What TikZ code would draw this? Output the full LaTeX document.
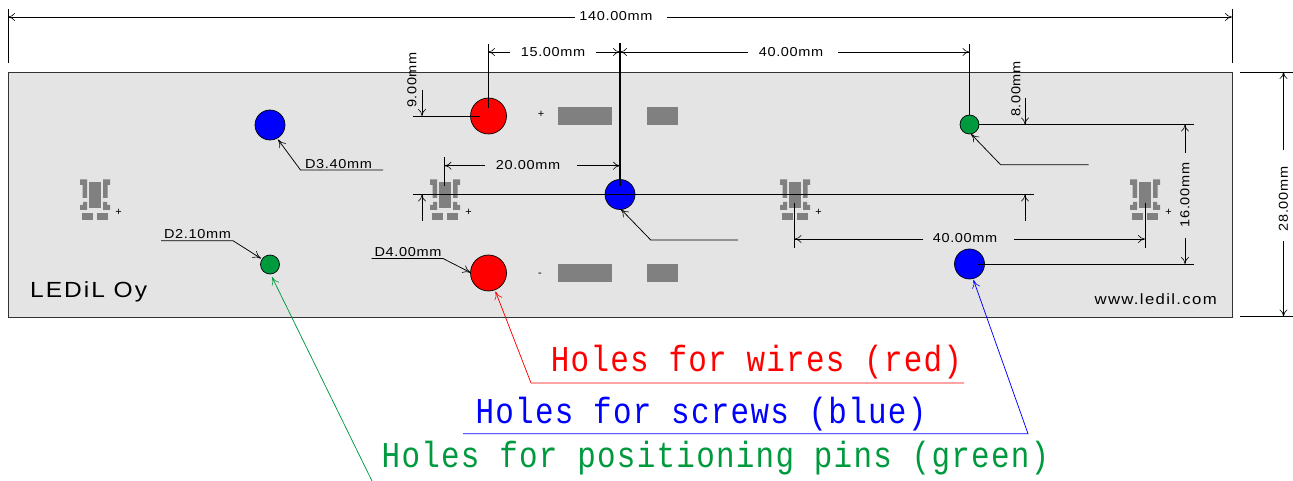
\documentclass[tikz,border=0pt]{standalone}
\usepackage{fontspec}
\usetikzlibrary{arrows.meta}
\newfontfamily\dimfont[FakeStretch=1.12,LetterSpace=5]{Liberation Sans}
\newfontfamily\brandfont[FakeStretch=1.12,LetterSpace=9]{Liberation Sans}
\newfontfamily\plainfont{Liberation Sans}
\newfontfamily\labfont[FakeStretch=0.85,LetterSpace=3.5]{Liberation Mono}
\definecolor{plate}{HTML}{E4E4E4}
\definecolor{padgray}{HTML}{808080}
\definecolor{pingreen}{HTML}{009A3E}
\tikzset{
  dimtext/.style={inner sep=0pt,font=\dimfont\fontsize{13}{14}\selectfont},
  dimline/.style={draw=black,line width=0.75pt,-{To[length=7bp,width=8bp,line width=0.6pt]}},
  plainline/.style={draw=black,line width=0.75pt},
  heavyline/.style={draw=black,line width=1.05pt},
  leader/.style={line width=0.75pt,-{To[length=8bp,width=8bp,line width=0.6pt]}},
  hole/.style={circle,draw=black,line width=0.7pt,inner sep=0pt},
  bighole/.style={hole,minimum size=36bp},
  midhole/.style={hole,minimum size=30bp},
  smallhole/.style={hole,minimum size=19bp},
  pad/.style={fill=padgray,draw=none},
  sign/.style={inner sep=0pt,font=\plainfont\fontsize{11}{12}\selectfont},
  holelabel/.style={inner sep=0pt,font=\labfont\fontsize{36.5}{38}\selectfont},
}
\begin{document}
\begin{tikzpicture}[x=1bp,y=-1bp]
\useasboundingbox (0,0) rectangle (1293,481);
\fill[white] (0,0) rectangle (1293,481);
% plate
\node[draw=black!80,line width=0.75pt,fill=plate,minimum width=1224bp,minimum height=244.5bp,inner sep=0pt,anchor=north west] (plateb) at (8,72) {};
% pads
\foreach \yy in {107,264}{
  \fill[pad] (558,\yy) rectangle (611.7,\yy+18);
  \fill[pad] (646.7,\yy) rectangle (678,\yy+18);
}
\node[sign] (plusw) at (541,114.5) {+};
\node[sign] (minusw) at (540,275) {-};
% LED footprints
\foreach \cx/\nm in {95/a,445/b,795/c,1145/d}{
  \begin{scope}[shift={(\cx,0)}]
    \fill[pad] (-6.2,182) rectangle (6.4,207.7);
    \foreach \s in {-1,1}{
      \fill[pad] (\s*15,179.3) -- (\s*8,179.3) -- (\s*8,198) -- (\s*12.5,198) -- (\s*12.5,185) -- (\s*15,185) -- cycle;
      \fill[pad] (\s*8,202) -- (\s*12,202) -- (\s*12,205) -- (\s*15,205) -- (\s*15,210) -- (\s*8,210) -- cycle;
    }
    \fill[pad] (-12.7,212.7) rectangle (-1.7,219.7);
    \fill[pad] (2,212.7) rectangle (13,219.7);
    \node[sign] (plus\nm) at (23.5,212.3) {+};
  \end{scope}
}
% holes
\node[bighole,fill=red] (w1) at (488.5,116) {};
\node[bighole,fill=red] (w2) at (488.5,273) {};
\node[midhole,fill=blue] (s1) at (270,125) {};
\node[midhole,fill=blue] (s2) at (620,194.5) {};
\node[midhole,fill=blue] (s3) at (969.5,264) {};
\node[smallhole,fill=pingreen] (p1) at (969.5,124.5) {};
\node[smallhole,fill=pingreen] (p2) at (270,264.5) {};
% named ends
\foreach \n/\x/\y in {
 tl/8/9, bl/8/63, tr/1232/9, br/1232/63, t1/8/17, t2/575/17, t3/667/17, t4/1232/17,
 a1/488/44, a2/488/108, b1/620/43, b2/620/186, c1/969.5/44, c2/969.5/115,
 d1/510/52, d0/488/52, d2/596/52, d3/620/52, e0/620/52, e1/748/52, e2/838/52, e3/969.5/52,
 f1/413/116, f2/480/116, g1/422/90, g2/422/116, g3/422/221, g4/422/194.5,
 h1/413/194.5, h2/1034/194.5, i1/979/124.5, i2/1194/124.5, i3/1034/124.5,
 j1/1025/98, j2/1025/124.5, j3/1025/221, j4/1025/194.5,
 k1/1185/153, k2/1185/124.5, k3/1185/238, k4/1185/264,
 l1/978/264, l2/1194/264,
 m1/794.5/203, m2/794.5/248, m3/1145/203, m4/1145/248,
 n1/923/239, n0/794.5/239, n2/1014/239, n3/1145/239,
 o1/444.5/157, o2/444.5/186, o3/485/165.7, o0/444.5/165.7, o4/577/165.7, o5/620/165.7,
 q1/1240/72, q2/1294/72, q3/1240/316.5, q4/1294/316.5,
 r1/1283.5/150, r2/1283.5/72, r3/1283.5/241, r4/1283.5/316.5,
 u1/1088.5/164.7, u2/1000.6/164.7, u3/971/134,
 v1/738/240, v2/650.7/240, v3/620.7/209,
 x1/383/170, x2/300.5/170, x3/278/139.5,
 y1/161/240.7, y2/233/240.7, y3/261/258.5,
 z1/371.5/258.5, z2/443/258.5, z3/470.7/272.7,
 ra/964/383, rb/531/383, rc/495.5/291.5,
 ba/463/433.7, bb/1028/433.7, bc/973.5/280,
 ga/372/481, gc/272/277}{
  \coordinate (\n) at (\x,\y);
}
% extension lines
\draw[plainline] (tl) -- (bl);
\draw[plainline] (tr) -- (br);
\draw[plainline] (a1) -- (a2);
\draw[heavyline] (b1) -- (b2);
\draw[plainline] (c1) -- (c2);
\draw[plainline] (f1) -- (f2);
\draw[heavyline] (h1) -- (h2);
\draw[plainline] (i1) -- (i2);
\draw[heavyline] (i1) -- (i3);
\draw[plainline] (l1) -- (l2);
\draw[plainline] (m1) -- (m2);
\draw[plainline] (m3) -- (m4);
\draw[plainline] (o1) -- (o2);
\draw[plainline] (q1) -- (q2);
\draw[plainline] (q3) -- (q4);
% dimension arrows and texts
\draw[dimline] (t2) -- (t1);
\draw[dimline] (t3) -- (t4);
\node[dimtext] (l140) at (616,16.5) {140.00mm};
\draw[dimline] (d1) -- (d0);
\draw[dimline] (d2) -- (d3);
\node[dimtext] (l15) at (553,52) {15.00mm};
\draw[dimline] (e1) -- (e0);
\draw[dimline] (e2) -- (e3);
\node[dimtext] (l40a) at (791,52) {40.00mm};
\draw[dimline] (o3) -- (o0);
\draw[dimline] (o4) -- (o5);
\node[dimtext] (l20) at (528,165.5) {20.00mm};
\draw[dimline] (n1) -- (n0);
\draw[dimline] (n2) -- (n3);
\node[dimtext] (l40b) at (965,238.5) {40.00mm};
\draw[dimline] (g1) -- (g2);
\draw[dimline] (g3) -- (g4);
\node[dimtext,rotate=90] (l9) at (412,80) {9.00mm};
\draw[dimline] (j1) -- (j2);
\draw[dimline] (j3) -- (j4);
\node[dimtext,rotate=90] (l8) at (1016,89) {8.00mm};
\draw[dimline] (k1) -- (k2);
\draw[dimline] (k3) -- (k4);
\node[dimtext,rotate=90] (l16) at (1185,195) {16.00mm};
\draw[dimline] (r1) -- (r2);
\draw[dimline] (r3) -- (r4);
\node[dimtext,rotate=90] (l28) at (1283.5,199) {28.00mm};
% diameter leaders
\draw[leader] (u1) -- (u2) -- (u3);
\draw[leader] (v1) -- (v2) -- (v3);
\draw[leader] (x1) -- (x2) -- (x3);
\draw[leader] (y1) -- (y2) -- (y3);
\draw[leader] (z1) -- (z2) -- (z3);
\node[dimtext] (d34) at (338.5,164) {D3.40mm};
\node[dimtext] (d21) at (197.5,234) {D2.10mm};
\node[dimtext] (d40) at (408,252) {D4.00mm};
% brand
\node[inner sep=0pt,anchor=west,font=\brandfont\fontsize{22}{24}\selectfont] (brand) at (30,292) {LEDiL Oy};
\node[inner sep=0pt,anchor=east,font=\brandfont\fontsize{15}{17}\selectfont] (web) at (1217,299) {www.ledil.com};
% coloured labels
\draw[red,leader] (ra) -- (rb) -- (rc);
\draw[blue,leader] (ba) -- (bb) -- (bc);
\draw[pingreen,leader] (ga) -- (gc);
\node[holelabel,text=red] (tw) at (756.5,362.5) {Holes for wires (red)};
\node[holelabel,text=blue] (ts) at (701,414.5) {Holes for screws (blue)};
\node[holelabel,text=pingreen] (tp) at (715.5,458.5) {Holes for positioning pins (green)};
\end{tikzpicture}
\end{document}
